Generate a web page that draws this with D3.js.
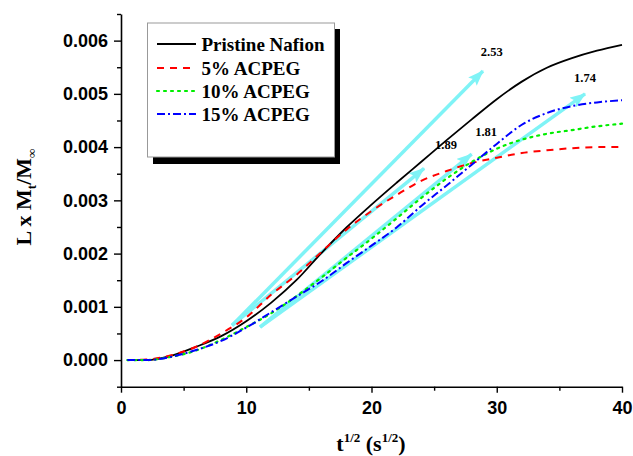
<!DOCTYPE html>
<html>
<head>
<meta charset="utf-8">
<script src="https://cdn.jsdelivr.net/npm/d3@7/dist/d3.min.js"></script>
<style>
  html, body { margin: 0; padding: 0; background: #fff; }
  svg { display: block; }
</style>
</head>
<body>
<svg id="chart" width="633" height="456"></svg>
<script>
// ---------------- data ----------------
const tValues = [0.5, 2, 4, 6, 8, 10, 12, 14, 16, 18, 20, 22, 24, 26, 28, 30, 32, 34, 36, 38, 40];
const pristine = [0, 0, 0.00008, 0.00025, 0.00045, 0.00073, 0.00108, 0.0015, 0.00201, 0.00249, 0.00292, 0.00333, 0.00373, 0.00413, 0.00452, 0.0049, 0.00523, 0.00549, 0.00567, 0.00581, 0.00592];
const acpeg5   = [0, 0.00001, 0.00009, 0.00025, 0.0005, 0.0008, 0.00123, 0.0016, 0.00203, 0.00245, 0.0028, 0.0031, 0.00337, 0.00355, 0.0037, 0.0038, 0.00389, 0.00394, 0.00398, 0.004, 0.004];
const acpeg10  = [0, 0, 0.00006, 0.00018, 0.00038, 0.00062, 0.00088, 0.0012, 0.00155, 0.00192, 0.00228, 0.00266, 0.00305, 0.00341, 0.00372, 0.00397, 0.00414, 0.00425, 0.00432, 0.00439, 0.00444];
const acpeg15  = [0, 0, 0.00006, 0.00019, 0.00036, 0.00061, 0.0009, 0.00119, 0.00148, 0.00182, 0.00215, 0.00249, 0.0029, 0.00328, 0.00367, 0.00406, 0.00442, 0.00464, 0.00477, 0.00484, 0.00488];
const seriesNames = ["Pristine Nafion", "5% ACPEG", "10% ACPEG", "15% ACPEG"];

// tangent arrows (start / end in data units) and slope labels
const tangentStartX = [8.86, 8.86, 11.1, 11.1];
const tangentStartY = [0.00065, 0.00065, 0.00062, 0.00062];
const tangentEndX   = [28.9, 24.2, 28.0, 37.05];
const tangentEndY   = [0.00543, 0.0036, 0.00387, 0.0050];
const slopeLabels   = ["2.53", "1.89", "1.81", "1.74"];
const labelX        = [29.6, 25.95, 29.15, 37.05];
const labelY        = [0.00578, 0.00404, 0.00428, 0.00529];

const xTicks = [0, 10, 20, 30, 40];
const xMinor = [5, 15, 25, 35];
const yTicks = [0, 0.001, 0.002, 0.003, 0.004, 0.005, 0.006];
const yMinor = [-0.0005, 0.0005, 0.0015, 0.0025, 0.0035, 0.0045, 0.0055, 0.0065];

// ---------------- drawing ----------------
const svg = d3.select("#chart");
const x = d3.scaleLinear().domain([0, 40]).range([121, 622]);
const y = d3.scaleLinear().domain([-0.0005, 0.0065]).range([386.7, 14]);

const serif = "'Liberation Serif','Times New Roman',serif";
const sans = "'Liberation Sans',Arial,sans-serif";

const styles = [
  { color: "#000000", dash: null, width: 1.8 },
  { color: "#ff0000", dash: "7,6", width: 2 },
  { color: "#00ee00", dash: "2,5", width: 2.2 },
  { color: "#0000ff", dash: "8,3,2,3", width: 2 }
];
const allSeries = [pristine, acpeg5, acpeg10, acpeg15];

// arrows (drawn beneath curves)
const cyan = "#7ff3f6";
svg.append("defs").append("marker")
  .attr("id", "ah")
  .attr("markerUnits", "userSpaceOnUse")
  .attr("viewBox", "0 0 16 12")
  .attr("refX", 15).attr("refY", 6)
  .attr("markerWidth", 16).attr("markerHeight", 12)
  .attr("orient", "auto")
  .append("path").attr("d", "M0,0 L16,6 L0,12 L3,6 Z").attr("fill", cyan);

const arrowG = svg.append("g");
tangentStartX.forEach((sx, i) => {
  arrowG.append("line")
    .attr("x1", x(sx)).attr("y1", y(tangentStartY[i]))
    .attr("x2", x(tangentEndX[i])).attr("y2", y(tangentEndY[i]))
    .attr("stroke", cyan).attr("stroke-width", 3.5)
    .attr("marker-end", "url(#ah)");
});

// curves
const line = d3.line()
  .x((d, i) => x(tValues[i]))
  .y(d => y(d))
  .curve(d3.curveMonotoneX);

allSeries.forEach((s, i) => {
  svg.append("path")
    .datum(s)
    .attr("d", line)
    .attr("fill", "none")
    .attr("stroke", styles[i].color)
    .attr("stroke-width", styles[i].width)
    .attr("stroke-dasharray", styles[i].dash)
    .attr("stroke-linecap", i === 2 ? "round" : "butt");
});

// slope labels
slopeLabels.forEach((t, i) => {
  svg.append("text")
    .attr("x", x(labelX[i])).attr("y", y(labelY[i]))
    .attr("text-anchor", "middle").attr("dominant-baseline", "central")
    .attr("font-family", serif).attr("font-weight", "bold").attr("font-size", 12.5)
    .text(t);
});

// axes
svg.append("g").attr("transform", `translate(0,${y.range()[0]})`)
  .call(d3.axisBottom(x).tickValues(xTicks).tickSize(6).tickSizeOuter(0).tickPadding(9).tickFormat(d3.format("d")));
svg.append("g").attr("transform", `translate(0,${y.range()[0]})`)
  .call(d3.axisBottom(x).tickValues(xMinor).tickSize(4).tickSizeOuter(0).tickFormat(""))
  .select(".domain").remove();
svg.append("g").attr("transform", `translate(${x.range()[0]},0)`)
  .call(d3.axisLeft(y).tickValues(yTicks).tickSize(7).tickSizeOuter(0).tickPadding(6).tickFormat(d3.format(".3f")));
svg.append("g").attr("transform", `translate(${x.range()[0]},0)`)
  .call(d3.axisLeft(y).tickValues(yMinor).tickSize(4).tickSizeOuter(0).tickFormat(""))
  .select(".domain").remove();

svg.selectAll(".domain").attr("stroke", "#000").attr("stroke-width", 1.6);
svg.selectAll(".tick line").attr("stroke", "#000").attr("stroke-width", 1.4);
svg.selectAll(".tick text")
  .attr("font-family", sans).attr("font-weight", "bold").attr("font-size", 18).attr("fill", "#000");

// axis titles
const xt = svg.append("text")
  .attr("x", 371).attr("y", 451)
  .attr("text-anchor", "middle")
  .attr("font-family", serif).attr("font-weight", "bold").attr("font-size", 22);
xt.append("tspan").text("t");
xt.append("tspan").attr("font-size", 13).attr("dy", -9).text("1/2");
xt.append("tspan").attr("dy", 9).text(" (s");
xt.append("tspan").attr("font-size", 13).attr("dy", -9).text("1/2");
xt.append("tspan").attr("dy", 9).text(")");

const yt = svg.append("text")
  .attr("transform", "translate(31,197) rotate(-90)")
  .attr("text-anchor", "middle")
  .attr("font-family", serif).attr("font-weight", "bold").attr("font-size", 22);
yt.append("tspan").text("L x M");
yt.append("tspan").attr("font-size", 13).attr("dy", 5).text("t");
yt.append("tspan").attr("dy", -5).text("/M");
yt.append("tspan").attr("font-size", 13).attr("dy", 5).text("∞");

// legend
const lg = svg.append("g");
lg.append("rect").attr("x", 153).attr("y", 29).attr("width", 187).attr("height", 135).attr("fill", "#000");
lg.append("rect").attr("x", 147.5).attr("y", 23).attr("width", 187).attr("height", 134)
  .attr("fill", "#fff").attr("stroke", "#999").attr("stroke-width", 1);
const rowY = [44, 68, 91, 114];
seriesNames.forEach((name, i) => {
  lg.append("line")
    .attr("x1", 157).attr("x2", 196).attr("y1", rowY[i]).attr("y2", rowY[i])
    .attr("stroke", styles[i].color).attr("stroke-width", styles[i].width)
    .attr("stroke-dasharray", styles[i].dash)
    .attr("stroke-linecap", i === 2 ? "round" : "butt");
  lg.append("text")
    .attr("x", 201.5).attr("y", rowY[i])
    .attr("dominant-baseline", "central")
    .attr("font-family", serif).attr("font-weight", "bold").attr("font-size", 19)
    .text(name);
});
</script>
</body>
</html>
